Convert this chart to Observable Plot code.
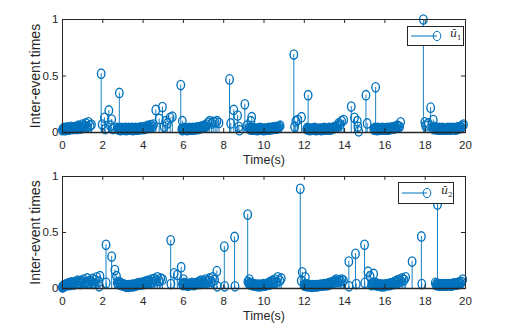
<!DOCTYPE html>
<html>
<head>
<meta charset="utf-8">
<script src="https://cdn.jsdelivr.net/npm/d3@7"></script>
<script src="https://cdn.jsdelivr.net/npm/@observablehq/plot@0.6"></script>
<style>
  body { margin: 0; background: #fff; }
  #wrap { position: relative; width: 512px; height: 330px; font-family: "Liberation Sans", Arial, sans-serif; }
  .panel { position: absolute; left: 0; }
  .legend { position: absolute; background: #fff; border: 1px solid #262626; box-sizing: border-box; }
  .legend svg { position: absolute; left: 0; top: 0; }
  .legend .lab { position: absolute; font-family: "DejaVu Serif", "Liberation Serif", serif; font-size: 11px; color: #262626; }
  .legend .lab sub { font-size: 7px; font-style: normal; }
</style>
</head>
<body>
<div id="wrap"></div>
<script>
// ---------------- data ----------------
const xTicks = [0, 2, 4, 6, 8, 10, 12, 14, 16, 18, 20];
const yTicks = [0, 0.5, 1];
const legendLabels = ["u1", "u2"];

// u1: dense bursts of small inter-event times (start time of burst + successive inter-event times)
const u1DenseStart = [0, 2.72, 5.92, 9.25, 12.12, 15.45, 18.38];
const u1Dense = [
  [0.02,0.03,0.025,0.04,0.03,0.02,0.035,0.03,0.045,0.03,0.025,0.04,0.035,0.03,0.05,0.04,0.03,0.045,0.035,0.04,0.05,0.03,0.04,0.06,0.045,0.035,0.05,0.07,0.04,0.06,0.08,0.05,0.09,0.06,0.07],
  [0.04,0.03,0.025,0.035,0.03,0.02,0.03,0.04,0.025,0.03, 0.035,0.025,0.03,0.04,0.02,0.03,0.035,0.025,0.03,0.04, 0.03,0.025,0.035,0.03,0.04,0.02,0.03,0.035,0.03,0.025, 0.04,0.03,0.035,0.025,0.03,0.04,0.035,0.03,0.045,0.03, 0.035,0.04,0.03,0.05,0.035,0.04,0.045,0.06,0.04,0.05, 0.065,0.05,0.07],
  [0.03,0.02,0.035,0.025,0.03,0.04,0.025,0.03,0.035,0.02, 0.03,0.035,0.025,0.04,0.03,0.025,0.035,0.03,0.04,0.03, 0.025,0.035,0.04,0.03,0.035,0.045,0.03,0.04,0.035,0.05, 0.04,0.055,0.045,0.06,0.05,0.07,0.085,0.1,0.08,0.095, 0.09,0.1,0.085],
  [0.04,0.03,0.035,0.025,0.03,0.04,0.03,0.025,0.035,0.03, 0.025,0.035,0.03,0.02,0.03,0.035,0.025,0.03,0.04,0.03, 0.03,0.025,0.035,0.03,0.02,0.03,0.035,0.03,0.025,0.03, 0.035,0.03,0.04,0.025,0.035,0.03,0.04,0.035,0.03,0.045, 0.035,0.04,0.05,0.035,0.045,0.04,0.05,0.06],
  [0.03,0.04,0.025,0.035,0.03,0.02,0.03,0.035,0.025,0.03, 0.035,0.03,0.025,0.04,0.03,0.02,0.035,0.03,0.025,0.03, 0.03,0.025,0.035,0.03,0.02,0.03,0.035,0.025,0.03,0.04, 0.025,0.03,0.035,0.03,0.025,0.035,0.03,0.04,0.025,0.03, 0.035,0.03,0.04,0.035,0.045,0.04,0.05,0.045,0.06,0.08,0.07,0.1,0.11],
  [0.03,0.025,0.04,0.03,0.035,0.02,0.03,0.04,0.025,0.035, 0.03,0.025,0.035,0.03,0.04,0.025,0.03,0.035,0.03,0.025, 0.035,0.03,0.04,0.025,0.03,0.035,0.04,0.03,0.035,0.045, 0.04,0.035,0.05,0.04,0.045,0.06,0.05,0.05,0.09],
  [0.04,0.03,0.05,0.035,0.03,0.04,0.025,0.035,0.03,0.04, 0.03,0.025,0.035,0.03,0.04,0.025,0.03,0.035,0.03,0.025, 0.035,0.03,0.025,0.04,0.03,0.035,0.025,0.03,0.04,0.03, 0.03,0.035,0.04,0.03,0.025,0.035,0.04,0.03,0.045,0.035, 0.04,0.05,0.045,0.06,0.07]
];
// u1: isolated events (time, inter-event time)
const u1SparseT = [1.92,1.97,2.08,2.12,2.30,2.38,2.44,2.50,2.82, 4.63,4.80,4.96,5.04,5.12,5.20,5.34,5.45,5.87,5.95, 8.29,8.35,8.50,8.69,8.75,8.78,9.05,9.15,9.35,9.39, 11.48,11.52,11.58,11.67,11.86,12.19, 14.33,14.49,14.63,14.66,14.70,15.06,15.12,15.54, 17.91,17.98,18.02,18.15,18.27,18.40];
const u1SparseV = [0.52,0.07,0.13,0.03,0.195,0.06,0.115,0.03,0.35, 0.20,0.12,0.225,0.05,0.10,0.08,0.13,0.14,0.42,0.10, 0.47,0.08,0.20,0.15,0.05,0.02,0.25,0.06,0.10,0.135, 0.69,0.05,0.10,0.11,0.135,0.33, 0.23,0.13,0.10,0.05,0.01,0.33,0.08,0.40, 1.00,0.09,0.06,0.08,0.22,0.11];

// u2
const u2DenseStart = [0, 2.72, 5.95, 9.2, 12.0, 15.35, 18.5];
const u2Dense = [
  [0.01,0.015,0.02,0.015,0.025,0.02,0.03,0.025,0.035,0.03, 0.04,0.035,0.045,0.03,0.05,0.04,0.055,0.045,0.035,0.05, 0.06,0.045,0.07,0.05,0.04,0.065,0.055,0.08,0.05,0.06, 0.09,0.05,0.07,0.06,0.085,0.045,0.075,0.1,0.06,0.11],
  [0.05,0.04,0.06,0.035,0.045,0.03,0.04,0.025,0.035,0.03, 0.02,0.025,0.03,0.015,0.02,0.025,0.02,0.03,0.015,0.025, 0.02,0.03,0.025,0.02,0.03,0.025,0.035,0.02,0.03,0.025, 0.035,0.03,0.04,0.03,0.045,0.035,0.04,0.05,0.035,0.045, 0.05,0.04,0.06,0.045,0.065,0.055,0.07,0.05,0.08,0.06, 0.085,0.07,0.1,0.065,0.09,0.08],
  [0.04,0.03,0.05,0.035,0.045,0.03,0.04,0.025,0.035,0.04, 0.03,0.045,0.035,0.05,0.04,0.03,0.045,0.035,0.04,0.05, 0.045,0.06,0.04,0.07,0.05,0.065,0.045,0.08,0.055,0.07, 0.09,0.06,0.1,0.075],
  [0.06,0.04,0.05,0.035,0.045,0.03,0.04,0.035,0.025,0.03, 0.025,0.035,0.03,0.02,0.03,0.025,0.035,0.03,0.02,0.03, 0.03,0.025,0.035,0.03,0.04,0.025,0.035,0.03,0.04,0.035, 0.04,0.05,0.035,0.06,0.045,0.07,0.05,0.08,0.06,0.1,0.07,0.09],
  [0.03,0.025,0.04,0.03,0.02,0.035,0.03,0.025,0.02,0.03, 0.025,0.02,0.03,0.015,0.025,0.02,0.03,0.025,0.02,0.025, 0.02,0.025,0.03,0.02,0.025,0.03,0.02,0.025,0.03,0.025, 0.03,0.025,0.035,0.03,0.025,0.03,0.035,0.03,0.04,0.03, 0.035,0.04,0.03,0.045,0.035,0.05,0.04,0.055,0.045,0.06,0.07,0.08, 0.06,0.075,0.065,0.08,0.07],
  [0.03,0.045,0.035,0.05,0.04,0.03,0.045,0.035,0.025,0.04, 0.03,0.025,0.035,0.02,0.03,0.025,0.035,0.03,0.02,0.03, 0.025,0.035,0.03,0.04,0.03,0.035,0.04,0.03,0.045,0.035, 0.045,0.05,0.04,0.06,0.05,0.07,0.055,0.08,0.065,0.09,0.075,0.1],
  [0.05,0.03,0.045,0.035,0.04,0.025,0.035,0.03,0.04,0.025, 0.03,0.035,0.025,0.04,0.03,0.025,0.035,0.03,0.04,0.03, 0.035,0.03,0.04,0.025,0.035,0.04,0.03,0.045,0.035,0.04, 0.045,0.035,0.05,0.04,0.055,0.045,0.06,0.08]
];
const u2SparseT = [1.82,2.16,2.17,2.44,2.60,2.68, 5.37,5.38,5.54,5.70,5.89,6.00, 7.66,7.68,8.03,8.05,8.54,8.56,9.19,9.27, 11.80,11.85,11.90,12.05, 14.21,14.22,14.54,14.58,14.99,15.00,15.16,15.26,15.44, 17.35,17.81,17.83,18.61];
const u2SparseV = [0.02,0.39,0.05,0.285,0.165,0.11, 0.43,0.04,0.135,0.12,0.19,0.08, 0.155,0.02,0.375,0.02,0.46,0.02,0.66,0.08, 0.89,0.07,0.145,0.10, 0.24,0.02,0.31,0.04,0.39,0.05,0.15,0.11,0.13, 0.24,0.465,0.04,0.75];

// ---------------- build ----------------
function buildRows(starts, dense, sT, sV) {
  const rows = [];
  dense.forEach((burst, i) => {
    let t = starts[i];
    for (const h of burst) { rows.push({t, v: h}); t += h; }
  });
  sT.forEach((t, i) => rows.push({t, v: sV[i]}));
  return rows;
}
const rows1 = buildRows(u1DenseStart, u1Dense, u1SparseT, u1SparseV);
const rows2 = buildRows(u2DenseStart, u2Dense, u2SparseT, u2SparseV);

const BLUE = "#0072BD";
const INK = "#262626";
// slightly tall ellipse marker (matches the reference's aspect)
const ellipse = {
  draw(ctx, size) {
    const ry = Math.sqrt(size / Math.PI), rx = ry * 0.8, k = 0.5523;
    ctx.moveTo(rx, 0);
    ctx.bezierCurveTo(rx, k * ry, k * rx, ry, 0, ry);
    ctx.bezierCurveTo(-k * rx, ry, -rx, k * ry, -rx, 0);
    ctx.bezierCurveTo(-rx, -k * ry, -k * rx, -ry, 0, -ry);
    ctx.bezierCurveTo(k * rx, -ry, rx, -k * ry, rx, 0);
    ctx.closePath();
  }
};

function panel(rows, mTop, mBottom) {
  return Plot.plot({
    width: 512, height: 165,
    marginLeft: 62, marginRight: 47, marginTop: mTop, marginBottom: mBottom,
    x: {domain: [0, 20], axis: null},
    y: {domain: [0, 1], axis: null},
    style: {fontFamily: "'Liberation Sans', Arial, sans-serif", background: "transparent", overflow: "visible", color: INK},
    marks: [
      Plot.ruleX(rows, {x: "t", y1: 0, y2: "v", stroke: BLUE, strokeWidth: 0.9}),
      Plot.dot(rows, {x: "t", y: "v", r: 4.7, symbol: ellipse, stroke: BLUE, fill: "none", strokeWidth: 1.35}),
      Plot.ruleY([0], {stroke: INK, strokeWidth: 1.6}),
      Plot.frame({stroke: INK, strokeWidth: 1}),
      // inward ticks, bottom/top and left/right
      Plot.ruleX(xTicks, {x: d => d, y1: 0, y2: 0.035, stroke: INK}),
      Plot.ruleX(xTicks, {x: d => d, y1: 0.965, y2: 1, stroke: INK}),
      Plot.ruleY(yTicks, {y: d => d, x1: 0, x2: 0.2, stroke: INK}),
      Plot.ruleY(yTicks, {y: d => d, x1: 19.8, x2: 20, stroke: INK}),
      Plot.axisX(xTicks, {anchor: "bottom", label: null, tickSize: 0, tickPadding: 8, fontSize: 11.5, tickFormat: d => String(d)}),
      Plot.axisY(yTicks, {anchor: "left", label: null, tickSize: 0, tickPadding: 4, fontSize: 11.5, tickFormat: d => String(d)}),
      Plot.text(["Time(s)"], {frameAnchor: "bottom", dy: 31, fontSize: 12.5, fill: INK, textAnchor: "middle"}),
      Plot.text(["Inter-event times"], {frameAnchor: "left", dx: -27, rotate: -90, fontSize: 14, fill: INK, textAnchor: "middle"})
    ]
  });
}

const wrap = document.getElementById("wrap");
const p1 = panel(rows1, 19, 33);
p1.classList.add("panel"); p1.style.top = "0px";
const p2 = panel(rows2, 11, 42);
p2.classList.add("panel"); p2.style.top = "165px";
wrap.appendChild(p1);
wrap.appendChild(p2);

function legend(left, top, w, h, lineX1, lineX2, textLeft, idx) {
  const d = document.createElement("div");
  d.className = "legend";
  Object.assign(d.style, {left: left + "px", top: top + "px", width: w + "px", height: h + "px"});
  const cy = h / 2 - 1;
  d.innerHTML =
    `<svg width="${w}" height="${h}"><line x1="${lineX1}" x2="${lineX2}" y1="${cy}" y2="${cy}" stroke="${BLUE}" stroke-width="1"/>` +
    `<ellipse cx="${lineX2}" cy="${cy}" rx="3.8" ry="4.7" fill="none" stroke="${BLUE}" stroke-width="1"/></svg>` +
    `<span class="lab" style="left:${textLeft}px;top:${cy - 9}px"><i>u&#772;</i><sub>${legendLabels[idx].slice(1)}</sub></span>`;
  wrap.appendChild(d);
}
legend(407, 26, 57, 20, 3, 29, 42, 0);
legend(398, 182, 56, 22, 3, 28, 42, 1);
</script>
</body>
</html>
